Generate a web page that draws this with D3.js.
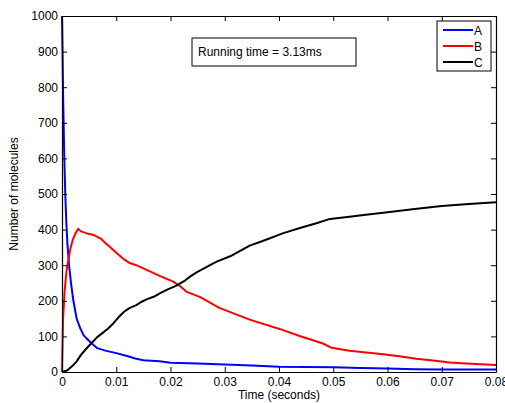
<!DOCTYPE html>
<meta charset="utf-8">
<head>
    <title>Molecules over time</title>
    <script src="https://d3js.org/d3.v7.min.js"></script>
    <style>
        body { margin: 0; background: #fff; }
        text { font-family: "Liberation Sans", Arial, sans-serif; fill: #000; }
    </style>
</head>
<body>
    <svg width="505" height="403"></svg>
    <script>
        // series: [time (s), count]
        var seriesA = [[0, 1000], [0.0001, 900], [0.0002, 780], [0.0004, 620], [0.0006, 500], [0.0008, 420],
            [0.001, 360], [0.0013, 300], [0.0017, 245], [0.0021, 200], [0.0027, 150], [0.0033, 125],
            [0.004, 103], [0.0045, 95], [0.0055, 80], [0.0065, 67], [0.008, 60], [0.01, 53], [0.012, 45],
            [0.0135, 38], [0.015, 33], [0.018, 30], [0.02, 26], [0.025, 24], [0.03, 21], [0.035, 18],
            [0.04, 15], [0.045, 14], [0.05, 13], [0.055, 11], [0.06, 10], [0.065, 8], [0.07, 7],
            [0.075, 7], [0.08, 7]];
        var seriesB = [[0, 0], [0.0002, 150], [0.0005, 230], [0.0008, 280], [0.0012, 318], [0.0016, 350],
            [0.002, 372], [0.0025, 390], [0.003, 402], [0.0035, 395], [0.0045, 390], [0.0058, 385],
            [0.0073, 373], [0.008, 362], [0.0088, 352], [0.01, 335], [0.0113, 318], [0.0125, 306],
            [0.0137, 300], [0.0156, 287], [0.018, 270], [0.0205, 254], [0.0217, 242], [0.023, 225],
            [0.0254, 211], [0.029, 180], [0.0346, 147], [0.0401, 121], [0.0438, 101], [0.0457, 92],
            [0.0481, 80], [0.0497, 68], [0.053, 60], [0.0561, 55], [0.0592, 50], [0.0622, 44],
            [0.0653, 37], [0.0684, 32], [0.0715, 27], [0.0745, 24], [0.08, 20]];
        var seriesC = [[0, 0], [0.001, 5], [0.002, 18], [0.0027, 30], [0.0035, 48], [0.0045, 66],
            [0.0055, 82], [0.0065, 98], [0.0075, 110], [0.0085, 122], [0.0095, 137], [0.0105, 155],
            [0.0115, 170], [0.0125, 180], [0.0137, 188], [0.0145, 196], [0.0156, 204], [0.017, 212],
            [0.018, 221], [0.0195, 232], [0.021, 242], [0.0225, 255], [0.0236, 268], [0.0248, 280],
            [0.026, 290], [0.0285, 310], [0.031, 325], [0.0346, 355], [0.037, 368], [0.0408, 390],
            [0.044, 405], [0.0469, 418], [0.0494, 430], [0.053, 436], [0.056, 442], [0.06, 449],
            [0.065, 458], [0.07, 466], [0.075, 472], [0.08, 477]];
        var seriesNames = ["A", "B", "C"];
        var seriesColors = ["#0000ff", "#ff0000", "#000000"];
        var xTicks = [0, 0.01, 0.02, 0.03, 0.04, 0.05, 0.06, 0.07, 0.08];
        var yTicks = [0, 100, 200, 300, 400, 500, 600, 700, 800, 900, 1000];
        var note = "Running time = 3.13ms";

        var svg = d3.select("svg");
        var margin = { left: 62, top: 16, right: 9, bottom: 31 };
        var width = 505 - margin.left - margin.right,
            height = 403 - margin.top - margin.bottom;

        var g = svg.append("g")
            .attr("transform", "translate(" + margin.left + "," + margin.top + ")");

        var x = d3.scaleLinear().domain([0, 0.08]).range([0, width]);
        var y = d3.scaleLinear().domain([0, 1000]).range([height, 0]);

        //draw the lines first so the box sits on top
        var line = d3.line()
            .x(function (d) { return x(d[0]); })
            .y(function (d) { return y(d[1]); });

        [seriesA, seriesB, seriesC].forEach(function (s, i) {
            g.append("path")
                .datum(s)
                .attr("fill", "none")
                .attr("stroke", seriesColors[i])
                .attr("stroke-width", 2)
                .attr("stroke-linejoin", "round")
                .attr("d", line);
        });

        //axes, ticks pointing in like matlab
        var fmt = function (d) { return d === 0 ? "0" : d3.format("")(d); };
        var xAxis = g.append("g")
            .attr("transform", "translate(0," + height + ")")
            .call(d3.axisBottom(x).tickValues(xTicks).tickFormat(fmt).tickSizeInner(-5).tickSizeOuter(0).tickPadding(5));
        var yAxis = g.append("g")
            .call(d3.axisLeft(y).tickValues(yTicks).tickFormat(fmt).tickSizeInner(-5).tickSizeOuter(0).tickPadding(4));
        var xTop = g.append("g")
            .call(d3.axisTop(x).tickValues(xTicks).tickFormat("").tickSizeInner(-5).tickSizeOuter(0));
        var yRight = g.append("g")
            .attr("transform", "translate(" + width + ",0)")
            .call(d3.axisRight(y).tickValues(yTicks).tickFormat("").tickSizeInner(-5).tickSizeOuter(0));

        [xAxis, yAxis, xTop, yRight].forEach(function (a) {
            a.attr("font-size", 12).attr("font-family", "'Liberation Sans', Arial, sans-serif");
            a.select(".domain").attr("stroke", "#000").attr("stroke-width", 1.2);
            a.selectAll(".tick line").attr("stroke", "#000");
        });

        g.append("text")
            .attr("x", width / 2)
            .attr("y", height + 27)
            .attr("text-anchor", "middle")
            .style("font-size", "12px")
            .text("Time (seconds)");

        g.append("text")
            .attr("transform", "translate(" + (18 - margin.left) + "," + (height / 2) + ") rotate(-90)")
            .attr("text-anchor", "middle")
            .style("font-size", "12px")
            .text("Number of molecules");

        //running time annotation
        var note_g = g.append("g").attr("transform", "translate(" + (192 - margin.left) + "," + (38 - margin.top) + ")");
        note_g.append("rect")
            .attr("width", 164).attr("height", 28)
            .attr("fill", "#fff").attr("stroke", "#000").attr("stroke-width", 1);
        note_g.append("text")
            .attr("x", 6).attr("y", 18)
            .style("font-size", "12px")
            .text(note);

        //legend
        var legend = g.append("g").attr("transform", "translate(" + (437 - margin.left) + "," + (21 - margin.top) + ")");
        legend.append("rect")
            .attr("width", 54).attr("height", 50)
            .attr("fill", "#fff").attr("stroke", "#000").attr("stroke-width", 1);
        seriesNames.forEach(function (name, i) {
            var row = legend.append("g").attr("transform", "translate(0," + (9 + i * 16) + ")");
            row.append("line")
                .attr("x1", 6).attr("x2", 36)
                .attr("stroke", seriesColors[i]).attr("stroke-width", 2);
            row.append("text")
                .attr("x", 37).attr("y", 4.5)
                .style("font-size", "12px")
                .text(name);
        });
    </script>
</body>
